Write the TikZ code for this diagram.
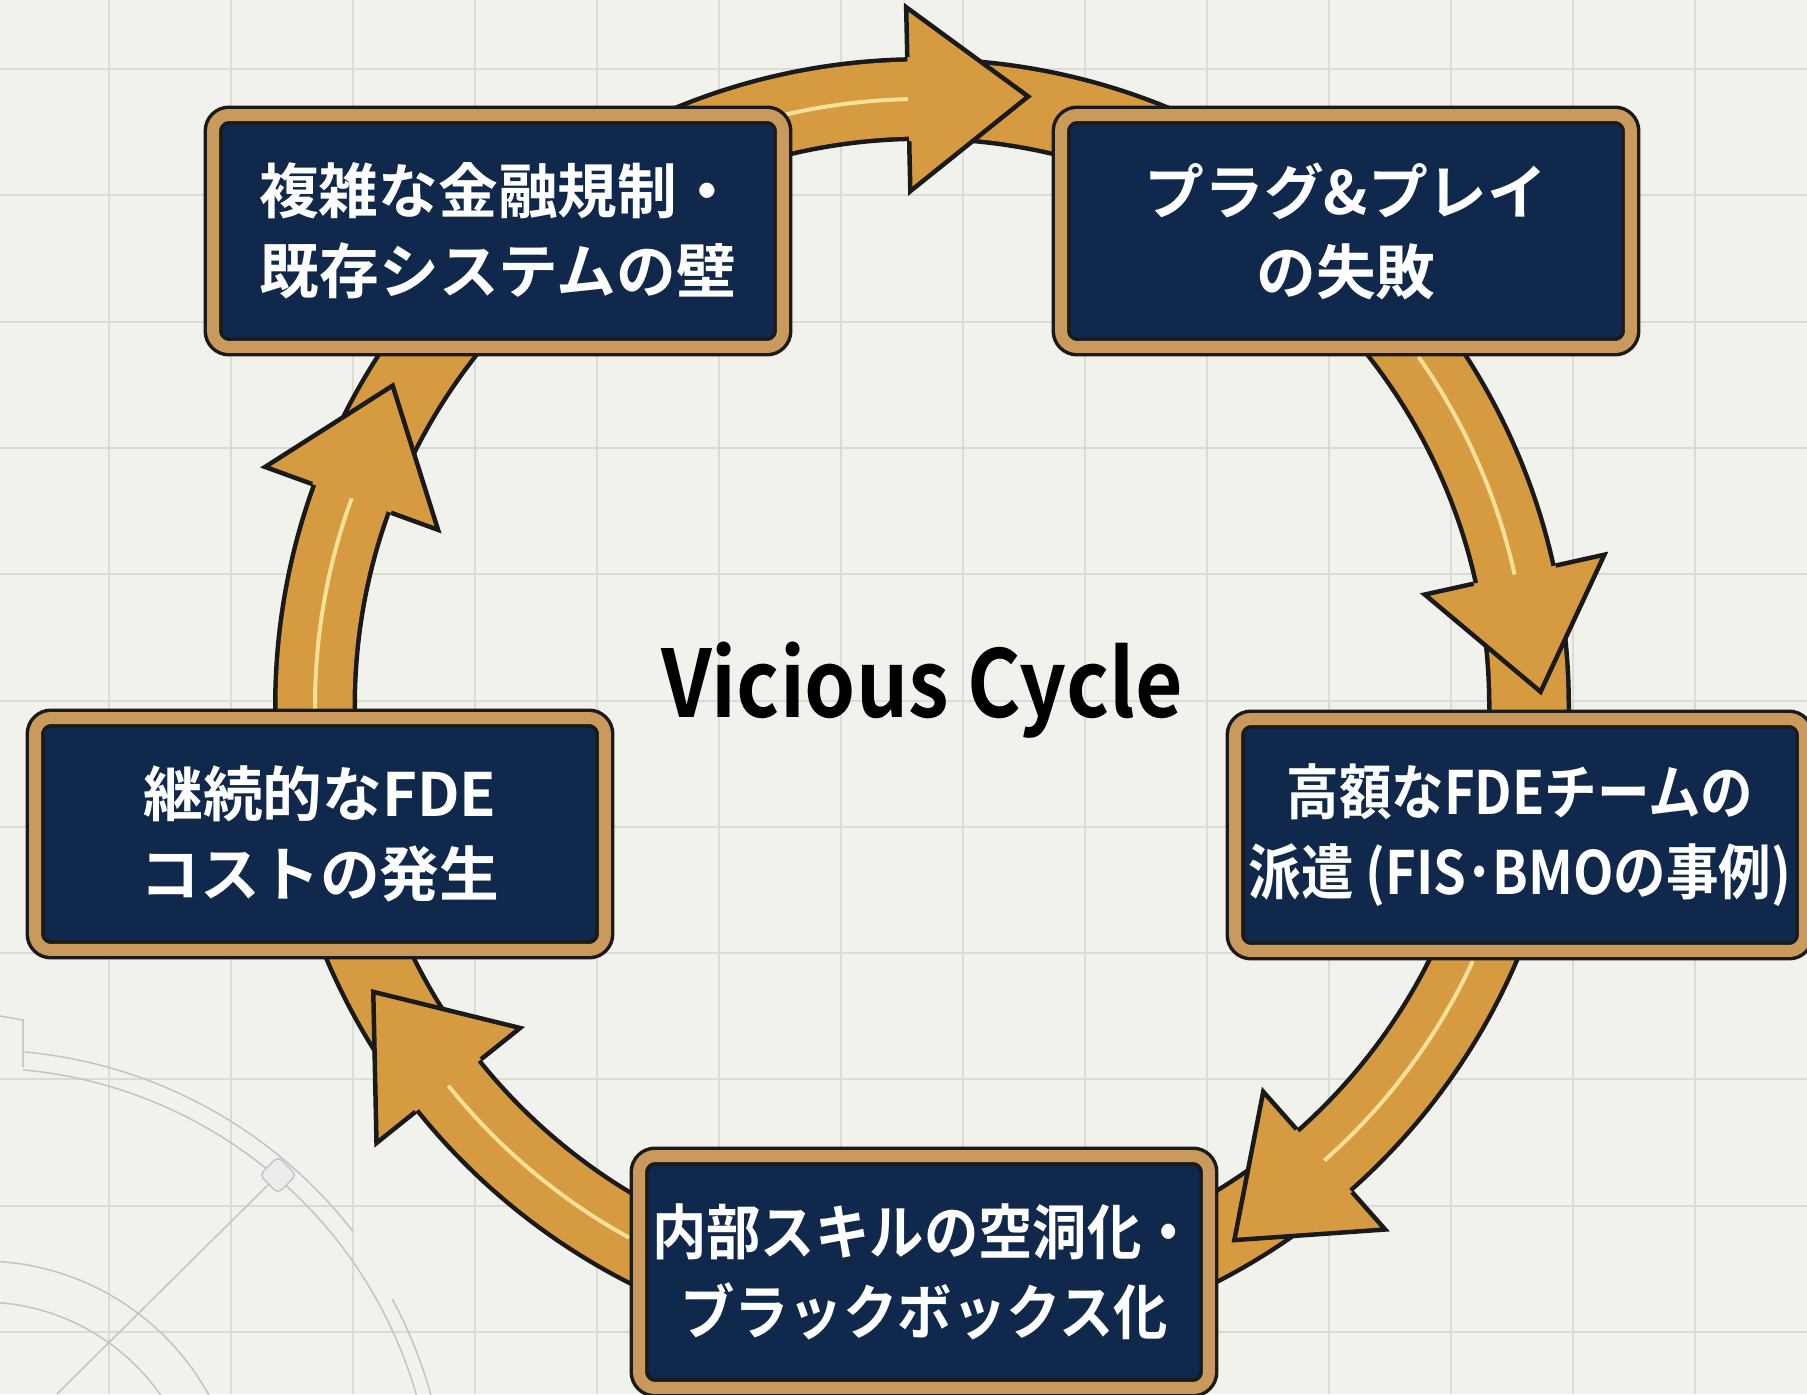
\documentclass[tikz,border=0pt]{standalone}
\usepackage{fontspec}
\setmainfont{Noto Sans CJK JP}[BoldFont={* Bold}]
\newfontfamily\narrowjp{Noto Sans CJK JP}[BoldFont={* Bold}, FakeStretch=0.88]
\newfontfamily\tightjp{Noto Sans CJK JP}[BoldFont={* Bold}, FakeStretch=0.91]
\usetikzlibrary{calc}

\definecolor{paper}{HTML}{F2F2EC}
\definecolor{gridline}{HTML}{DBDBD5}
\definecolor{navy}{HTML}{10284C}
\definecolor{boxgold}{HTML}{C99A5B}
\definecolor{ringgold}{HTML}{D69B40}
\definecolor{shine}{HTML}{F8E09A}
\definecolor{inkline}{HTML}{1A1A1A}
\definecolor{sketch}{HTML}{C2C4C7}

% one arrow head on the ring, #1 = angle of its back edge
\newcommand{\cyclehead}[1]{%
  \filldraw[headfill] ($(cyc)+(#1:649)$) -- ($(cyc)+(#1:699)$)
    -- ($(cyc)+(#1:607)+(#1-90:120)$) -- ($(cyc)+(#1:515)$) -- ($(cyc)+(#1:565)$);%
}

\begin{document}
\begin{tikzpicture}[x=0.02cm, y=0.02cm,
    cyclebox/.style={rectangle, rounded corners=0.32cm, fill=navy, draw=inkline,
      line width=0.07cm, double=boxgold, double distance=0.24cm,
      minimum width=11.4cm, minimum height=4.64cm, align=center, text=white,
      font=\fontsize{34}{45.5}\selectfont\bfseries},
    headfill/.style={fill=ringgold, draw=inkline, line width=0.09cm, line join=miter},
    shineline/.style={shine, line width=0.08cm, line cap=round},
    sketchline/.style={sketch, line width=0.03cm},
    sketchdot/.style={rectangle, rotate=45, rounded corners=0.1cm, minimum size=0.52cm,
      fill=gray!15, draw=sketch, line width=0.03cm}]
  \useasboundingbox (0,0) rectangle (1807,1394);
  \fill[paper] (0,0) rectangle (1807,1394);%

  % Drawing grid
  \foreach \gx in {109,231,...,1695}
    \draw[gridline, line width=0.04cm] (\gx,0) -- (\gx,1394);%
  \foreach \gk in {0,...,10}
    \draw[gridline, line width=0.04cm] (0,{1325-126.3*\gk}) -- (1807,{1325-126.3*\gk});%

  % Drawing sketch in lower left corner
  \coordinate (sk) at (-18,-126);
  \draw[sketchline] (0,378) -- (23,374) -- (23,327);%
  \draw[sketchline] ($(sk)+(84.8:470)$) arc[start angle=84.8, end angle=38, radius=470];%
  \draw[sketchline] ($(sk)+(84.8:452)$) arc[start angle=84.8, end angle=14, radius=452];%
  \draw[sketchline] ($(sk)+(28.3:466)$) arc[start angle=28.3, end angle=14, radius=466];%
  \draw[sketchline] ($(sk)+(88:259)$) arc[start angle=88, end angle=14, radius=259];%
  \draw[sketchline] ($(sk)+(88:218)$) arc[start angle=88, end angle=14, radius=218];%
  \node[sketchdot] (dot) at (278,219) {};%
  \draw[sketchline] (57,0) -- (dot);%

  % Drawing ring
  \coordinate (cyc) at (922,688);
  \draw[inkline, line width=1.68cm] (cyc) circle[radius=607];%
  \draw[ringgold, line width=1.5cm] (cyc) circle[radius=607];%

  % Drawing shine on ring
  \draw[shineline] ($(cyc)+(104:607)$) arc[start angle=104, end angle=90.5, radius=607];%
  \draw[shineline] ($(cyc)+(35:607)$) arc[start angle=35, end angle=12, radius=607];%
  \draw[shineline] ($(cyc)+(-25:607)$) arc[start angle=-25, end angle=-49, radius=607];%
  \draw[shineline] ($(cyc)+(241:607)$) arc[start angle=241, end angle=218, radius=607];%
  \draw[shineline] ($(cyc)+(182:607)$) arc[start angle=182, end angle=159.5, radius=607];%

  % Drawing arrow heads
  \cyclehead{91.3}
  \cyclehead{12.5}
  \cyclehead{-48.5}
  \cyclehead{218.7}
  \cyclehead{160}

  % Marking boxes
  \node[cyclebox] (wall) at (498,1163) {複雑な金融規制・\\既存システムの壁};%
  \node[cyclebox] (plug) at (1346,1163) {プラグ\&プレイ\\の失敗};%
  \node[cyclebox] (team) at (1520,559) {\narrowjp\bfseries 高額なFDEチームの\\\narrowjp\bfseries 派遣 (FIS･BMOの事例)};%
  \node[cyclebox] (hollow) at (924,122) {\tightjp\bfseries 内部スキルの空洞化・\\\tightjp\bfseries ブラックボックス化};%
  \node[cyclebox] (cost) at (320,560) {継続的なFDE\\コストの発生};%

  % Marking title
  \node[anchor=base, font=\fontsize{53}{60}\selectfont\narrowjp\bfseries] (title) at (922,677) {Vicious Cycle};%
\end{tikzpicture}
\end{document}
